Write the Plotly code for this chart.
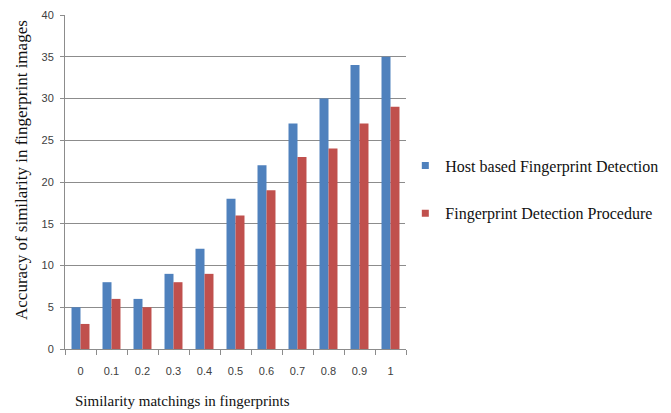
import plotly.graph_objects as go

categories = ["0", "0.1", "0.2", "0.3", "0.4", "0.5", "0.6", "0.7", "0.8", "0.9", "1"]
host_based = [5, 8, 6, 9, 12, 18, 22, 27, 30, 34, 35]
procedure = [3, 6, 5, 8, 9, 16, 19, 23, 24, 27, 29]
series_names = ["Host based Fingerprint Detection", "Fingerprint Detection Procedure"]
colors = ["#4F81BD", "#C0504D"]

fig = go.Figure()
for name, vals, col in zip(series_names, [host_based, procedure], colors):
    fig.add_trace(go.Bar(x=categories, y=vals, name=name, marker_color=col,
                         marker_line_width=0, showlegend=False))
for i, (name, col) in enumerate(zip(series_names, colors)):
    fig.add_trace(go.Scatter(x=[None], y=[None], mode="markers", name=name,
                             legendgroup=str(i),
                             marker=dict(symbol="square", size=7, color=col)))

tick_font = dict(family="Liberation Sans", size=11, color="#404040")
fig.update_layout(
    width=671, height=413,
    margin=dict(l=57, r=273, t=7, b=72, autoexpand=False),
    plot_bgcolor="white", paper_bgcolor="white",
    barmode="group", bargap=0.42, bargroupgap=0,
    legend=dict(x=0.998, y=0.4775, xanchor="left", yanchor="middle",
                font=dict(family="Liberation Serif", size=16, color="#111111"),
                traceorder="grouped", tracegroupgap=24, itemwidth=30),
    xaxis=dict(type="category", showline=True, linecolor="#8c8c8c", linewidth=1,
               ticks="outside", tickson="boundaries", ticklen=5, tickcolor="#8c8c8c",
               tickfont=tick_font, ticklabelstandoff=12),
    yaxis=dict(range=[0, 40], dtick=5, showgrid=True, gridcolor="#8c8c8c", gridwidth=1,
               showline=True, linecolor="#8c8c8c", linewidth=1,
               ticks="outside", ticklen=4, tickcolor="#8c8c8c",
               tickfont=tick_font, zeroline=False, ticklabelstandoff=4),
    annotations=[
        dict(text="Similarity matchings in fingerprints", xref="paper", yref="paper",
             x=0.346, y=0, yshift=-52, xanchor="center", yanchor="middle",
             showarrow=False, font=dict(family="Liberation Serif", size=15, color="#111111")),
        dict(text="Accuracy of similarity in fingerprint images", xref="paper", yref="paper",
             x=0, y=0.536, xshift=-43, xanchor="center", yanchor="middle", textangle=-90,
             showarrow=False, font=dict(family="Liberation Serif", size=17, color="#111111")),
    ],
)
fig.write_html("out.html")
